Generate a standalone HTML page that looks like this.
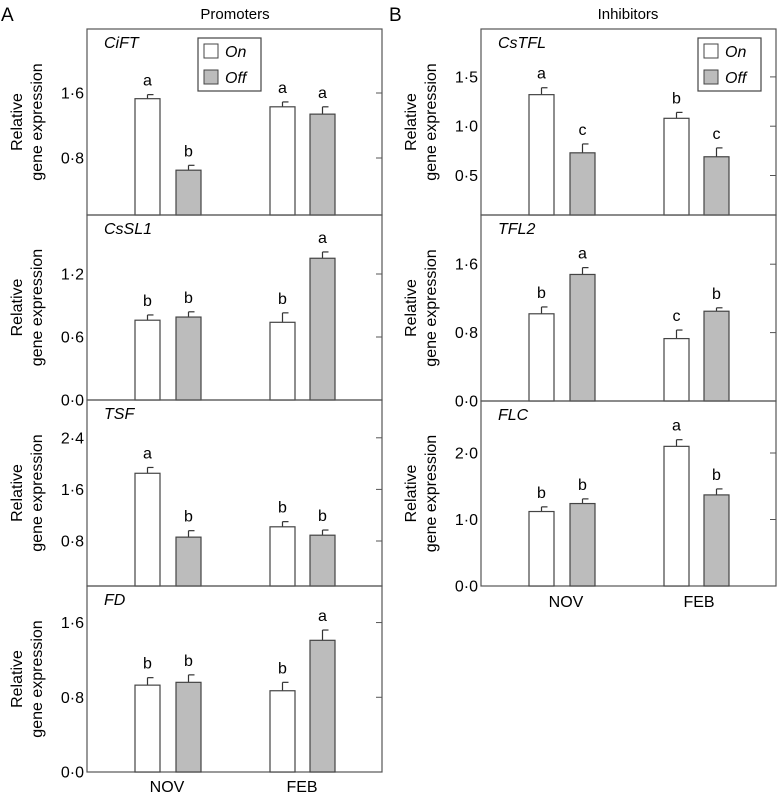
<!DOCTYPE html>
<html><head><meta charset="utf-8"><style>
body{margin:0;background:#fff;}
svg{display:block;font-family:"Liberation Sans",Arial,sans-serif;}
</style></head><body>
<svg id="c" width="777" height="796" viewBox="0 0 777 796">
<text x="1" y="21" font-size="19">A</text>
<text x="235" y="19" font-size="15" text-anchor="middle">Promoters</text>
<text x="389" y="21" font-size="19">B</text>
<text x="628" y="19" font-size="15" text-anchor="middle">Inhibitors</text>
<text x="167" y="792" font-size="16" text-anchor="middle">NOV</text>
<text x="302" y="792" font-size="16" text-anchor="middle">FEB</text>
<text x="566" y="607" font-size="16" text-anchor="middle">NOV</text>
<text x="699" y="607" font-size="16" text-anchor="middle">FEB</text>
</svg>
<script>
const genes = ["CiFT","CsSL1","TSF","FD","CsTFL","TFL2","FLC"];
const onVals  = [1.53,0.76,1.85,0.93,1.32,1.02,1.12];
const onErr   = [0.05,0.05,0.09,0.08,0.07,0.08,0.07];
const offVals = [0.65,0.79,0.86,0.96,0.73,1.48,1.24];
const offErr  = [0.06,0.05,0.10,0.08,0.09,0.08,0.07];
const febOnVals  = [1.43,0.74,1.02,0.87,1.08,0.73,2.10];
const febOnErr   = [0.06,0.09,0.08,0.09,0.06,0.10,0.10];
const febOffVals = [1.34,1.35,0.89,1.41,0.69,1.05,1.37];
const febOffErr  = [0.09,0.06,0.08,0.11,0.09,0.04,0.09];
const letters = [["a","b","a","a"],["b","b","b","a"],["a","b","b","b"],["b","b","b","a"],["a","c","b","c"],["b","a","c","b"],["b","b","a","b"]];
const tickLabels = [["0·8","1·6"],["0·0","0·6","1·2"],["0·8","1·6","2·4"],["0·0","0·8","1·6"],["0·5","1·0","1·5"],["0·0","0·8","1·6"],["0·0","1·0","2·0"]];
const tickVals = [[0.8,1.6],[0,0.6,1.2],[0.8,1.6,2.4],[0,0.8,1.6],[0.5,1.0,1.5],[0,0.8,1.6],[0,1,2]];
// layout (not data)
const L = [
 {x0:87,x1:382,top:29,bot:215,zeroY:223,pxPer:81.25,bx:[135,176,270,310]},
 {x0:87,x1:382,top:215,bot:400,zeroY:400,pxPer:105,bx:[135,176,270,310]},
 {x0:87,x1:382,top:400,bot:586,zeroY:592.6,pxPer:64.5,bx:[135,176,270,310]},
 {x0:87,x1:382,top:586,bot:772,zeroY:772,pxPer:93.4,bx:[135,176,270,310]},
 {x0:481,x1:776,top:29,bot:215,zeroY:224.8,pxPer:98.6,bx:[529,570,664,704]},
 {x0:481,x1:776,top:215,bot:401,zeroY:401,pxPer:85.5,bx:[529,570,664,704]},
 {x0:481,x1:776,top:401,bot:586,zeroY:586,pxPer:66.5,bx:[529,570,664,704]}
];
const svg=document.getElementById('c');
const NS="http://www.w3.org/2000/svg";
function mk(t,a,txt){const e=document.createElementNS(NS,t);for(const k in a)e.setAttribute(k,a[k]);if(txt!==undefined)e.textContent=txt;svg.appendChild(e);return e;}
const BW=25;
genes.forEach((g,i)=>{
 const p=L[i];
 const y=v=>p.zeroY-v*p.pxPer;
 let e=mk('rect',{x:p.x0,y:p.top,width:p.x1-p.x0,height:p.bot-p.top,fill:'none',stroke:'#555','stroke-width':1.2});
 
 
 e=mk('text',{x:p.x0+17,y:p.top+19,'font-size':16,'font-style':'italic'},g);
 
 
 const cy=(p.top+p.bot)/2;
 e=mk('text',{x:0,y:0,'font-size':16,'text-anchor':'middle',transform:`translate(${p.x0-65},${cy}) rotate(-90)`},'Relative');
 
 
 e=mk('text',{x:0,y:0,'font-size':16,'text-anchor':'middle',transform:`translate(${p.x0-45},${cy}) rotate(-90)`},'gene expression');
 
 
 tickVals[i].forEach((tv,k)=>{
  const ty=y(tv);
  e=mk('text',{x:p.x0-3,y:ty+5.5,'font-size':16,'text-anchor':'end'},tickLabels[i][k]);
  
  
  e=mk('line',{x1:p.x1-6,x2:p.x1,y1:ty,y2:ty,stroke:'#555'});
  
  
 });
 const vals=[onVals[i],offVals[i],febOnVals[i],febOffVals[i]];
 const errs=[onErr[i],offErr[i],febOnErr[i],febOffErr[i]];
 vals.forEach((v,j)=>{
  const x=p.bx[j],top=y(v),et=y(v+errs[j]);
  e=mk('line',{x1:x+BW/2,x2:x+BW/2,y1:top,y2:et,stroke:'#333','stroke-width':1.2});
  
  
  e=mk('line',{x1:x+BW/2,x2:x+BW/2+6,y1:et,y2:et,stroke:'#333','stroke-width':1.2});
  
  
  e=mk('rect',{x:x,y:top,width:BW,height:p.bot-top,fill:(j%2?'#bcbcbc':'#fff'),stroke:'#444','stroke-width':1.2});
  
  
  e=mk('text',{x:x+BW/2,y:et-9,'font-size':16,'text-anchor':'middle'},letters[i][j]);
  
  
 });
});
[[198,38],[698,38]].forEach(([lx,ly])=>{
 let e=mk('rect',{x:lx,y:ly,width:63,height:53,fill:'#fff',stroke:'#444','stroke-width':1.2});
 
 
 [['On','#fff',6],['Off','#bcbcbc',32]].forEach(([t,f,dy])=>{
  e=mk('rect',{x:lx+6,y:ly+dy,width:14,height:14,fill:f,stroke:'#444'});
  
  
  e=mk('text',{x:lx+27,y:ly+dy+13,'font-size':16,'font-style':'italic'},t);
  
  
 });
});
</script>
</body></html>
